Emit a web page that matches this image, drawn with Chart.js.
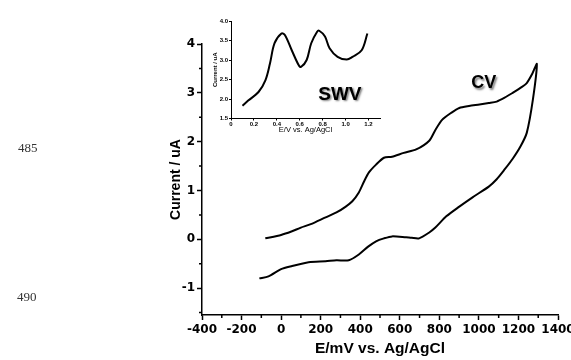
<!DOCTYPE html>
<html lang="en">
<head>
<meta charset="UTF-8" />
<title>CV / SWV</title>
<script src="https://cdn.jsdelivr.net/npm/chart.js@4.4.1/dist/chart.umd.min.js"></script>
<style>
  body{margin:0;background:#fff;}
  #wrap{position:relative;width:571px;height:360px;}
  #main{position:absolute;left:0;top:0;}
  #inset{position:absolute;left:190px;top:5px;}
  .ln{position:absolute;font:13px "Liberation Serif",serif;color:#333;}
</style>
</head>
<body>
<div id="wrap">
  <canvas id="main" width="571" height="360"></canvas>
  <canvas id="inset" width="195" height="135"></canvas>
  <div class="ln" style="left:18px;top:140px">485</div>
  <div class="ln" style="left:17px;top:289px">490</div>
</div>
<script>
// CV, forward (anodic) branch: potential in mV, current in uA
const cvFwdE = [-80, 0, 52, 100, 150, 225, 280, 327, 360, 393, 420, 444, 480, 520, 561, 620,
  683, 749, 780, 815, 860, 901, 950, 1003, 1050, 1090, 1130, 1171, 1210, 1242, 1270, 1293];
const cvFwdI = [0.02, 0.09, 0.16, 0.24, 0.31, 0.45, 0.55, 0.67, 0.78, 0.96, 1.19, 1.37, 1.53, 1.67, 1.69, 1.77,
  1.84, 2.02, 2.24, 2.45, 2.59, 2.69, 2.73, 2.76, 2.79, 2.82, 2.90, 3.00, 3.10, 3.20, 3.39, 3.59];
// CV, reverse branch
const cvRevE = [1273, 1242, 1210, 1171, 1130, 1090, 1050, 968, 901, 835, 780, 749, 698, 660,
  632, 561, 520, 480, 440, 393, 342, 280, 225, 139, 52, 0, -64, -110];
const cvRevI = [2.86, 2.18, 1.90, 1.65, 1.43, 1.23, 1.08, 0.86, 0.67, 0.47, 0.24, 0.14, 0.02, 0.03,
  0.04, 0.06, 0.02, -0.04, -0.15, -0.31, -0.43, -0.43, -0.45, -0.47, -0.55, -0.61, -0.76, -0.80];

// SWV inset: potential in V, current in uA
const swvE = [0.10, 0.15, 0.24, 0.30, 0.34, 0.38, 0.44, 0.47, 0.53, 0.59, 0.61, 0.66, 0.70,
  0.75, 0.77, 0.82, 0.86, 0.93, 1.01, 1.06, 1.14, 1.19];
const swvI = [1.83, 1.96, 2.18, 2.48, 2.91, 3.43, 3.68, 3.64, 3.25, 2.87, 2.82, 3.00, 3.43,
  3.72, 3.75, 3.60, 3.30, 3.08, 3.01, 3.08, 3.25, 3.68];

// minor tick positions
const xMinor = [-300, -100, 100, 300, 500, 700, 900, 1100, 1300];
const yMinor = [-1.5, -0.5, 0.5, 1.5, 2.5, 3.5];

const SANS = '"Liberation Sans", Arial, sans-serif';
const TICKFONT = '"DejaVu Sans", sans-serif';

const pts = (xs, ys) => xs.map((v, i) => ({x: v, y: ys[i]}));

const minorTicks = {
  id: 'minorTicks',
  afterDraw(chart, args, o){
    if(!o.x) return;
    const {ctx, chartArea: a, scales: {x, y}} = chart;
    ctx.save();
    ctx.strokeStyle = '#000'; ctx.lineWidth = 1.5;
    ctx.beginPath();
    o.x.forEach(v => { const px = x.getPixelForValue(v); ctx.moveTo(px, a.bottom); ctx.lineTo(px, a.bottom + o.len); });
    o.y.forEach(v => { const py = y.getPixelForValue(v); ctx.moveTo(a.left, py); ctx.lineTo(a.left - o.len, py); });
    ctx.stroke();
    ctx.restore();
  }
};

const tagLabel = {
  id: 'tagLabel',
  afterDatasetsDraw(chart, args, o){
    if(!o.text) return;
    const {ctx, scales: {x, y}} = chart;
    ctx.save();
    ctx.font = o.font;
    ctx.fillStyle = '#000';
    ctx.shadowColor = 'rgba(0,0,0,0.5)';
    ctx.shadowBlur = 2; ctx.shadowOffsetX = 1.5; ctx.shadowOffsetY = 1.5;
    ctx.textAlign = 'center'; ctx.textBaseline = 'middle';
    ctx.fillText(o.text, x.getPixelForValue(o.at[0]), y.getPixelForValue(o.at[1]));
    ctx.restore();
  }
};

const axisBase = (len, w) => ({
  border: {color: '#000', width: w},
  grid: {drawOnChartArea: false, color: '#000', tickLength: len, tickWidth: w}
});

new Chart(document.getElementById('main'), {
  type: 'scatter',
  data: {datasets: [{
    data: pts(cvFwdE.concat(cvRevE), cvFwdI.concat(cvRevI)),
    showLine: true, borderColor: '#000', borderWidth: 2, pointRadius: 0, tension: 0.25
  }]},
  options: {
    responsive: false, animation: false,
    layout: {padding: {left: 164, top: 44, right: 13, bottom: 0}},
    plugins: {
      legend: {display: false}, tooltip: {enabled: false},
      minorTicks: {x: xMinor, y: yMinor, len: 3},
      tagLabel: {text: 'CV', at: [1025, 3.2], font: 'bold 18px ' + SANS}
    },
    scales: {
      x: {
        type: 'linear', min: -400, max: 1400, ...axisBase(5, 1.5),
        ticks: {stepSize: 200, autoSkip: false, maxRotation: 0, padding: 3, color: '#000',
          font: {family: TICKFONT, size: 12, weight: 'bold'}, callback: v => String(v)},
        title: {display: true, text: 'E/mV vs. Ag/AgCl', color: '#000',
          font: {family: SANS, size: 15.5, weight: 'bold'}, padding: {top: 0, bottom: 2}},
        afterFit: s => { s.height = 45; s.paddingLeft = 0; s.paddingRight = 0; }
      },
      y: {
        type: 'linear', min: -1.55, max: 4, ...axisBase(5, 1.5),
        ticks: {stepSize: 1, includeBounds: false, padding: 2, color: '#000',
          font: {family: TICKFONT, size: 12, weight: 'bold'}, callback: v => String(v)},
        title: {display: true, text: 'Current / uA', color: '#000',
          font: {family: SANS, size: 14, weight: 'bold'}, padding: {top: 4, bottom: 0}},
        afterFit: s => { s.width = 38; }
      }
    }
  },
  plugins: [minorTicks, tagLabel]
});

new Chart(document.getElementById('inset'), {
  type: 'scatter',
  data: {datasets: [{
    data: pts(swvE, swvI),
    showLine: true, borderColor: '#000', borderWidth: 2, pointRadius: 0, tension: 0.35
  }]},
  options: {
    responsive: false, animation: false,
    layout: {padding: {left: 21.4, top: 16, right: 5, bottom: 0}},
    plugins: {
      legend: {display: false}, tooltip: {enabled: false},
      tagLabel: {text: 'SWV', at: [0.95, 2.12], font: 'bold 19px ' + SANS}
    },
    scales: {
      x: {
        type: 'linear', min: 0, max: 1.3, ...axisBase(2, 1),
        ticks: {stepSize: 0.2, includeBounds: false, autoSkip: false, maxRotation: 0, padding: 0,
          color: '#000', font: {family: SANS, size: 6, weight: 'bold'},
          callback: v => v === 0 ? '0' : v.toFixed(1)},
        title: {display: true, text: 'E/V vs. Ag/AgCl', color: '#000',
          font: {family: SANS, size: 7.5}, padding: {top: 0, bottom: 5.5}},
        afterFit: s => { s.height = 21.5; }
      },
      y: {
        type: 'linear', min: 1.5, max: 4, ...axisBase(2, 1),
        ticks: {stepSize: 0.5, padding: 1, color: '#000',
          font: {family: SANS, size: 6, weight: 'bold'}, callback: v => v.toFixed(1)},
        title: {display: true, text: 'Current / uA', color: '#000',
          font: {family: SANS, size: 6, weight: 'bold'}, padding: {top: 0, bottom: 0}},
        afterFit: s => { s.width = 19.6; }
      }
    }
  },
  plugins: [tagLabel]
});
</script>
</body>
</html>
